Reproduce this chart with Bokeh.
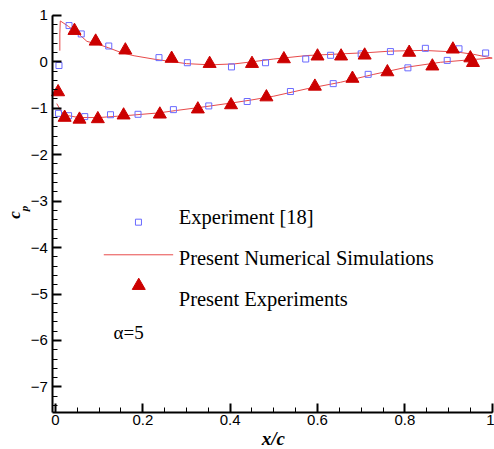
from math import pi
from bokeh.plotting import figure
from bokeh.models import Label, SingleIntervalTicker, CustomJSTickFormatter, Range1d
from bokeh.embed import file_html
from bokeh.resources import INLINE

# ---------------- data ----------------
# Experiment [18] (hollow squares)
exp18_upper_x = [0.008, 0.031, 0.059, 0.122, 0.237, 0.302, 0.403, 0.481, 0.573, 0.630, 0.700, 0.767, 0.847, 0.924, 0.985]
exp18_upper_cp = [-0.08, 0.78, 0.60, 0.34, 0.09, -0.02, -0.11, -0.02, 0.06, 0.14, 0.17, 0.22, 0.29, 0.28, 0.19]
exp18_lower_x = [0.007, 0.030, 0.067, 0.126, 0.189, 0.270, 0.351, 0.439, 0.538, 0.636, 0.716, 0.807, 0.897]
exp18_lower_cp = [-1.11, -1.16, -1.18, -1.14, -1.13, -1.03, -0.95, -0.855, -0.64, -0.47, -0.27, -0.13, 0.03]

# Present Experiments (filled triangles)
pres_upper_x = [0.0435, 0.092, 0.160, 0.266, 0.353, 0.450, 0.523, 0.600, 0.654, 0.708, 0.810, 0.910, 0.950]
pres_upper_cp = [0.67, 0.44, 0.25, 0.07, -0.04, -0.04, 0.06, 0.12, 0.12, 0.14, 0.20, 0.27, 0.08]
pres_lower_x = [0.006, 0.021, 0.055, 0.097, 0.156, 0.239, 0.326, 0.402, 0.483, 0.594, 0.680, 0.760, 0.863, 0.956]
pres_lower_cp = [-0.65, -1.20, -1.24, -1.23, -1.15, -1.13, -1.02, -0.93, -0.76, -0.53, -0.36, -0.22, -0.095, -0.02]

# Present Numerical Simulations (line)
num_upper_x = [0.010, 0.010, 0.011, 0.030, 0.053, 0.072, 0.100, 0.122, 0.150, 0.180, 0.230, 0.270, 0.300, 0.355,
               0.410, 0.450, 0.500, 0.576, 0.653, 0.720, 0.767, 0.843, 0.920, 0.958, 1.000]
num_upper_cp = [0.24, 0.60, 0.88, 0.76, 0.60, 0.44, 0.37, 0.30, 0.20, 0.13, 0.05, 0.00, -0.04, -0.065,
                -0.045, 0.00, 0.06, 0.135, 0.17, 0.20, 0.23, 0.245, 0.21, 0.16, 0.08]
num_lower_x = [0.003, 0.014, 0.030, 0.053, 0.099, 0.160, 0.237, 0.275, 0.332, 0.408, 0.450, 0.500, 0.576,
               0.653, 0.729, 0.805, 0.882, 0.958, 1.000]
num_lower_cp = [-0.90, -1.085, -1.16, -1.20, -1.20, -1.16, -1.10, -1.05, -0.98, -0.88, -0.82, -0.74, -0.58,
                -0.44, -0.27, -0.115, -0.01, 0.05, 0.08]

x_axis_bounds = (-0.006, 1.0)
y_axis_bounds = (-7.55, 1.0)
legend_labels = ["Experiment [18]", "Present Numerical Simulations", "Present Experiments"]
annotation_text = "\u03b1=5"

# ---------------- styles ----------------
SQ_COLOR = "#6a6aff"
TRI_COLOR = "#cc0000"
LINE_COLOR = "#e84a4a"
SERIF = "Liberation Serif"
SANS = "Liberation Sans"

# The frame covers the whole canvas; the axes are pinned inside it so that
# the axis titles (drawn as labels) are not clipped.
p = figure(width=494, height=449, output_backend="svg", toolbar_location=None,
           x_range=Range1d(-0.1259, 1.0053), y_range=Range1d(-8.347, 1.3197),
           min_border_left=0, min_border_right=0, min_border_top=0, min_border_bottom=0)
p.outline_line_color = None
p.xgrid.visible = False
p.ygrid.visible = False
p.background_fill_color = "white"
p.border_fill_color = "white"

p.xaxis.fixed_location = y_axis_bounds[0]
p.yaxis.fixed_location = x_axis_bounds[0]
p.xaxis.bounds = x_axis_bounds
p.yaxis.bounds = y_axis_bounds

p.xaxis.ticker = SingleIntervalTicker(interval=0.2, num_minor_ticks=4)
p.yaxis.ticker = SingleIntervalTicker(interval=1, num_minor_ticks=5)
p.xaxis.formatter = CustomJSTickFormatter(code="return (Math.round(tick*10)/10).toString();")
for ax in (p.xaxis[0], p.yaxis[0]):
    ax.axis_line_width = 2
    ax.axis_line_color = "black"
    ax.major_tick_in = 9
    ax.major_tick_out = 0
    ax.minor_tick_in = 5
    ax.minor_tick_out = 0
    ax.major_tick_line_width = 2
    ax.minor_tick_line_width = 1
    ax.major_label_text_font = SANS
    ax.major_label_text_font_size = "15px"
    ax.major_label_text_color = "black"
p.xaxis.major_label_standoff = 3
p.yaxis.major_label_standoff = 5

# numerical line
p.line(num_upper_x, num_upper_cp, line_color=LINE_COLOR, line_width=1)
p.line(num_lower_x, num_lower_cp, line_color=LINE_COLOR, line_width=1)

# experiment [18]
p.scatter(exp18_upper_x + exp18_lower_x, exp18_upper_cp + exp18_lower_cp, marker="square", size=6,
          fill_color=None, line_color=SQ_COLOR, line_width=1)

# present experiments
p.scatter(pres_upper_x + pres_lower_x, pres_upper_cp + pres_lower_cp, marker="triangle", size=13,
          fill_color=TRI_COLOR, line_color=TRI_COLOR, line_width=1)

# ---------------- legend (laid out as in the Tecplot original) ----------------
p.scatter([0.190], [-3.453], marker="square", size=6, fill_color=None, line_color=SQ_COLOR, line_width=1)
p.line([0.1106, 0.2695], [-4.155, -4.155], line_color=LINE_COLOR, line_width=1)
p.scatter([0.1907], [-4.82], marker="triangle", size=13, fill_color=TRI_COLOR, line_color=TRI_COLOR)

for lbl, yv in zip(legend_labels, [-3.346, -4.22, -5.10]):
    p.add_layout(Label(x=0.2823, y=yv, text=lbl, text_font=SERIF, text_font_size="20.5px",
                       text_baseline="middle", text_align="left", text_color="black"))

p.add_layout(Label(x=0.1328, y=-5.82, text=annotation_text, text_font=SERIF, text_font_size="19px",
                   text_baseline="middle", text_align="left", text_color="black"))

# axis titles
p.add_layout(Label(x=0.499, y=-8.10, text="x/c", text_font=SERIF, text_font_size="19px",
                   text_font_style="bold italic", text_baseline="middle", text_align="center",
                   text_color="black"))
p.add_layout(Label(x=-0.094, y=-3.30, text="c", text_font=SERIF, text_font_size="17px",
                   text_font_style="bold italic", text_baseline="middle", text_align="center",
                   angle=pi / 2, text_color="black"))
p.add_layout(Label(x=-0.071, y=-3.16, text="p", text_font=SERIF, text_font_size="11px",
                   text_font_style="bold italic", text_baseline="middle", text_align="center",
                   angle=pi / 2, text_color="black"))

open("out.html", "w").write(file_html(p, INLINE))
